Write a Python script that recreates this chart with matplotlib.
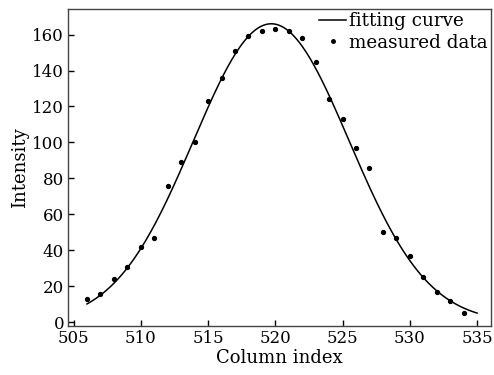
import numpy as np
import matplotlib
matplotlib.use('Agg')
import matplotlib.pyplot as plt

# Measured intensity per column
columns = [506, 507, 508, 509, 510, 511, 512, 513, 514, 515, 516, 517, 518, 519, 520,
           521, 522, 523, 524, 525, 526, 527, 528, 529, 530, 531, 532, 533, 534]
intensity = [13, 16, 24, 31, 42, 47, 76, 89, 100, 123, 136, 151, 159, 162, 163,
             162, 158, 145, 124, 113, 97, 86, 50, 47, 37, 25, 17, 12, 5]

# Gaussian fit parameters
fit_amplitude = 166.0
fit_center = 519.7
fit_sigma = 5.8
fit_range = (506, 535)

x_ticks = [505, 510, 515, 520, 525, 530, 535]
y_ticks = [0, 20, 40, 60, 80, 100, 120, 140, 160]

plt.rcParams['font.family'] = 'DejaVu Serif'

fig = plt.figure(figsize=(4.94, 3.75), dpi=100)
ax = fig.add_axes([0.138, 0.13, 0.855, 0.845])

xf = np.linspace(fit_range[0], fit_range[1], 300)
yf = fit_amplitude * np.exp(-(xf - fit_center) ** 2 / (2 * fit_sigma ** 2))
ax.plot(xf, yf, color='black', lw=1.1, label='fitting curve')
ax.plot(columns, intensity, 'o', color='black', ms=2.8, label='measured data')

ax.set_xlim(504.6, 536)
ax.set_ylim(-2.2, 174)
ax.set_xticks(x_ticks)
ax.set_yticks(y_ticks)
ax.tick_params(direction='in', labelsize=12, length=4, width=1, pad=3)
for s in ax.spines.values():
    s.set_linewidth(1.0)
    s.set_color('#444444')

ax.set_xlabel('Column index', fontsize=13, labelpad=1)
ax.set_ylabel('Intensity', fontsize=13, labelpad=2)

ax.legend(loc='upper right', frameon=False, fontsize=13.2, handlelength=1.5,
          handletextpad=0.15, borderaxespad=0.05, labelspacing=0.2,
          markerscale=0.9, borderpad=0.1)

fig.savefig('out.png', dpi=100)
